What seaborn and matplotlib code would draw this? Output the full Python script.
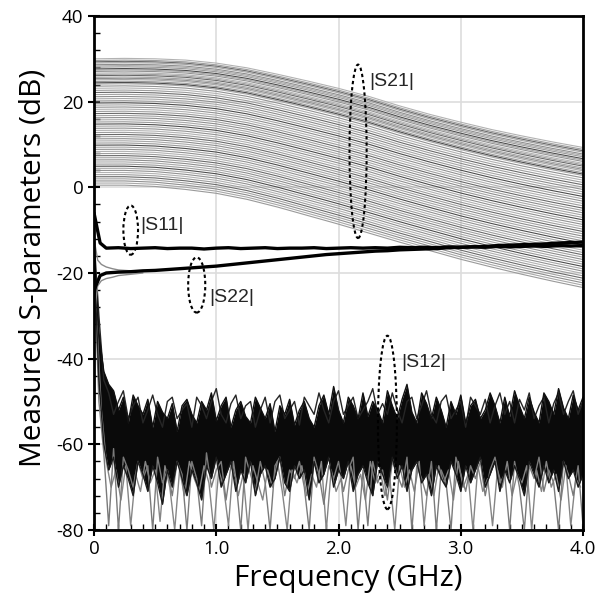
import numpy as np
import pandas as pd
import matplotlib
matplotlib.use("Agg")
import matplotlib.pyplot as plt
import seaborn as sns
from matplotlib.patches import Ellipse
from matplotlib.ticker import MultipleLocator

# ---------------- data ----------------
# |S21| family: low-frequency gain settings (dB) and the roll-off of the top / bottom curve
s21_freq = [0.0, 0.25, 0.5, 0.75, 1.0, 1.25, 1.5, 1.75, 2.0, 2.25, 2.5, 2.75, 3.0, 3.25, 3.5, 3.75, 4.0]
s21_top = [30.0, 30.1, 30.0, 29.7, 29.0, 27.9, 26.4, 24.8, 23.1, 21.2, 19.0, 17.0, 15.2, 13.5, 12.0, 10.6, 9.3]
s21_bottom = [0.5, 0.5, 0.2, -0.5, -1.4, -2.8, -4.6, -6.6, -8.6, -10.7, -12.8, -14.8, -16.8, -18.6, -20.3, -21.9, -23.4]
s21_gains = [0.0, 0.5, 1.0, 1.5, 2.0, 2.5, 3.0, 3.5, 4.0, 4.5, 5.0, 5.5, 6.0, 6.5, 7.0, 7.5,
             8.0, 8.5, 9.0, 9.5, 10.0, 10.5, 11.0, 11.5, 12.0, 12.5, 13.0, 13.5, 14.0, 14.5,
             15.0, 15.5, 16.0, 16.5, 17.0, 17.5, 18.0, 18.5, 19.0, 19.5, 20.0, 20.5, 21.0,
             21.5, 22.0, 22.5, 23.0, 23.5, 24.0, 24.3, 24.6, 25.0, 25.3, 25.6, 26.0,
             26.3, 26.6, 27.0, 27.3, 27.6, 28.0, 28.3, 28.6, 29.0, 29.3, 29.6, 30.0]
s21_grays = ["#9a9a9a", "#a8a8a8", "#8e8e8e", "#a2a2a2", "#6a6a6a", "#9e9e9e", "#b2b2b2", "#929292", "#a5a5a5", "#4c4c4c"]

# |S11| and |S22|
sxx_freq = [0.0, 0.05, 0.1, 0.2, 0.3, 0.4, 0.5, 0.6, 0.7, 0.8, 0.9, 1.0, 1.1, 1.2, 1.3, 1.4,
            1.5, 1.6, 1.7, 1.8, 1.9, 2.0, 2.1, 2.2, 2.3, 2.4, 2.5, 2.6, 2.7, 2.8, 2.9, 3.0,
            3.1, 3.2, 3.3, 3.4, 3.5, 3.6, 3.7, 3.8, 3.9, 4.0]
s11 = [-6.0, -13.0, -14.2, -14.1, -14.3, -14.2, -14.1, -14.3, -14.2, -14.2, -14.4, -14.2,
       -14.1, -14.3, -14.2, -14.1, -14.3, -14.2, -14.2, -14.1, -14.3, -14.2, -14.1, -14.2,
       -14.1, -14.2, -14.0, -14.1, -14.0, -14.1, -13.9, -14.0, -13.9, -14.0, -13.8, -13.9,
       -13.8, -13.7, -13.8, -13.6, -13.7, -13.6]
s22 = [-24.0, -20.6, -20.0, -19.8, -19.7, -19.5, -19.4, -19.2, -19.0, -18.8, -18.6, -18.4,
       -18.1, -17.8, -17.5, -17.2, -16.9, -16.6, -16.3, -16.0, -15.7, -15.5, -15.3, -15.1,
       -14.9, -14.8, -14.6, -14.5, -14.4, -14.3, -14.1, -14.0, -13.9, -13.8, -13.6, -13.5,
       -13.4, -13.3, -13.2, -13.0, -12.9, -12.8]
s22_lowf_freq = [0.0, 0.03, 0.06, 0.1, 0.15, 0.2, 0.3, 0.4]
s22_lowf_a = [-30.0, -23.0, -21.8, -21.3, -21.0, -20.6, -20.3, -20.0]
s22_lowf_b = [-12.0, -17.0, -18.0, -18.6, -19.0, -19.3, -19.5, -19.6]

# |S12| (noise floor), sampled every 0.04 GHz (second grey trace offset by 0.02 GHz)
s12_hi = [-14, -34, -43, -46, -47.5, -52, -49, -55, -48.5, -51,
          -53, -49.5, -56, -50, -52.5, -54, -50.5, -57, -51, -49.5,
          -53, -55, -50, -52, -48, -54.5, -51, -49, -56, -52,
          -50, -53.5, -55, -49, -51.5, -54, -50.5, -57, -51, -53,
          -49.5, -55.5, -52, -50, -54, -56, -51, -48.5, -53, -46.5,
          -52, -55, -49, -51, -54, -48, -53.5, -50, -52, -55,
          -47.5, -51, -54, -49.5, -46, -52.5, -55, -48, -50.5, -54,
          -49, -52, -56, -50, -53, -48.5, -55, -51, -49.5, -54,
          -52, -48, -51, -55, -49, -53.5, -47.5, -51, -54, -49,
          -52.5, -55, -48, -50, -53, -47, -51.5, -54, -48.5, -52, -49]
s12_hi2 = [-12, -30, -45, -48, -53, -50, -47.5, -54, -51, -49,
           -55, -52, -48.5, -53, -56, -50, -49, -54, -52, -50.5,
           -56, -49, -51, -54, -50, -47, -53, -55, -50.5, -48.5,
           -54, -51, -50, -56, -52, -49, -55, -50, -48.5, -54,
           -52, -50, -55.5, -49, -51, -53, -48, -52, -55, -50,
           -47.5, -53, -51, -49, -54, -52, -50, -47, -53, -50.5,
           -53, -48, -52, -55, -50, -49, -54, -51, -47.5, -53,
           -55, -50, -48.5, -54, -52, -50, -56, -49, -51, -53,
           -49.5, -55, -51, -48, -53, -50, -55, -49.5, -52, -48,
           -54, -51, -49, -55, -50.5, -48, -53, -50, -47.5, -53, -50]
s12_lo = [-16, -45, -60, -66, -63, -70, -65, -68, -72, -64,
          -67, -71, -65, -69, -74, -66, -70, -64, -68, -72,
          -66, -69, -73, -65, -68, -63, -70, -67, -64, -71,
          -66, -69, -64, -72, -67, -65, -70, -68, -63, -69,
          -71, -65, -68, -66, -73, -64, -69, -67, -63, -70,
          -66, -68, -64, -71, -67, -65, -69, -72, -64, -67,
          -70, -63, -68, -65, -71, -66, -64, -69, -67, -72,
          -65, -68, -70, -64, -67, -71, -65, -69, -66, -63,
          -70, -67, -64, -71, -66, -69, -65, -68, -72, -64,
          -67, -70, -65, -69, -66, -71, -64, -68, -66, -70, -67]
s12_dip = [-18, -50, -62, -79, -61, -80, -63, -66, -70, -64,
           -68, -65, -80, -63, -69, -66, -72, -64, -67, -80,
           -64, -68, -79, -62, -70, -66, -64, -73, -65, -68,
           -80, -63, -67, -71, -64, -69, -80, -65, -63, -72,
           -66, -68, -64, -70, -80, -63, -67, -74, -65, -68,
           -64, -71, -66, -63, -80, -66, -79, -64, -69, -66,
           -73, -64, -67, -70, -63, -80, -65, -68, -72, -64,
           -80, -66, -69, -80, -63, -67, -71, -65, -68, -64,
           -72, -66, -63, -69, -67, -80, -64, -70, -80, -65,
           -68, -63, -71, -66, -69, -80, -64, -67, -72, -65, -79]
s12_dip2 = [-30, -52, -64, -70, -66, -73, -65, -79, -67, -71,
            -64, -69, -66, -78, -65, -70, -80, -66, -72, -64,
            -68, -71, -65, -69, -80, -66, -70, -79, -64, -72,
            -67, -80, -65, -69, -73, -66, -70, -64, -71, -80,
            -66, -69, -65, -72, -67, -70, -64, -80, -66, -71,
            -68, -79, -65, -70, -67, -73, -64, -69, -66, -72,
            -68, -80, -65, -70, -66, -71, -64, -79, -67, -72,
            -65, -69, -66, -73, -64, -70, -67, -80, -65, -71,
            -68, -79, -66, -70, -64, -72, -67, -69, -65, -80,
            -66, -71, -64, -70, -67, -73, -65, -79, -68, -70]

# annotations: label, ellipse centre (GHz, dB), ellipse size, text position
notes = [("|S21|", (2.16, 8.4), (0.14, 40.5), (2.25, 24.6)),
         ("|S11|", (0.30, -10.0), (0.12, 11.5), (0.38, -8.9)),
         ("|S22|", (0.84, -22.8), (0.14, 12.9), (0.94, -25.8)),
         ("|S12|", (2.40, -54.9), (0.155, 40.5), (2.51, -41.0))]

# ---------------- figure ----------------
sns.set_theme(style="white")
plt.rcParams["font.family"] = ["Open Sans", "DejaVu Sans"]

fig = plt.figure(figsize=(6, 6.03), dpi=100)
ax = fig.add_axes([0.1567, 0.1211, 0.815, 0.8524])

# S21 family
top = np.array(s21_top)
bot = np.array(s21_bottom)
rows = []
for k, g in enumerate(s21_gains):
    vals = bot + (g / 30.0) * (top - bot)
    for f, v in zip(s21_freq, vals):
        rows.append((k, f, v))
df21 = pd.DataFrame(rows, columns=["curve", "f", "dB"])
pal21 = [s21_grays[k % len(s21_grays)] for k in range(len(s21_gains))]
sns.lineplot(data=df21, x="f", y="dB", hue="curve", palette=pal21, legend=False,
             estimator=None, sort=False, lw=0.8, ax=ax, zorder=2)

# S12 noise floor
def freq_for(vals, start=0.0):
    return np.round(start + 0.04 * np.arange(len(vals)), 3)

n = min(len(s12_hi), len(s12_lo))
ax.fill_between(freq_for(s12_hi)[:n], s12_hi[:n], s12_lo[:n], color="#0a0a0a", lw=0, zorder=3)
parts = [("dip2", s12_dip2, 0.02), ("dip", s12_dip, 0.0), ("lo", s12_lo, 0.0),
         ("hi2", s12_hi2, 0.0), ("hi", s12_hi, 0.0)]
df12 = pd.concat([pd.DataFrame({"f": freq_for(v, st), "dB": v, "trace": name})
                  for name, v, st in parts], ignore_index=True)
sns.lineplot(data=df12, x="f", y="dB", hue="trace",
             palette={"dip2": "#858585", "dip": "#7a7a7a", "lo": "#1a1a1a",
                      "hi2": "#262626", "hi": "#111111"},
             legend=False, estimator=None, sort=False, lw=1.0, ax=ax, zorder=3)

# S11 / S22
sns.lineplot(x=s22_lowf_freq, y=s22_lowf_a, color="#8a8a8a", lw=1.0, ax=ax, zorder=4)
sns.lineplot(x=s22_lowf_freq, y=s22_lowf_b, color="#8a8a8a", lw=1.0, ax=ax, zorder=4)
sns.lineplot(x=sxx_freq, y=s11, color="black", lw=2.4, ax=ax, zorder=5)
sns.lineplot(x=sxx_freq, y=s22, color="black", lw=2.4, ax=ax, zorder=5)

# annotations
for label, c, size, tpos in notes:
    ax.add_patch(Ellipse(c, size[0], size[1], fill=False, ec="black", lw=1.5,
                         ls=(0, (1.6, 1.4)), zorder=6))
    ax.text(tpos[0], tpos[1], label, fontsize=14, family=["Liberation Sans"],
            ha="left", va="center", zorder=7)

# axes styling
ax.set_xlim(0, 4.0)
ax.set_ylim(-80, 40)
ax.set_xticks([0, 1, 2, 3, 4])
ax.set_xticklabels(["0", "1.0", "2.0", "3.0", "4.0"])
yt = [-80, -60, -40, -20, 0, 20, 40]
ax.set_yticks(yt)
ax.set_yticklabels([str(v) for v in yt])
ax.xaxis.set_minor_locator(MultipleLocator(0.1))
ax.yaxis.set_minor_locator(MultipleLocator(4))
ax.tick_params(axis="both", which="major", direction="inout", length=9, width=1.5,
               colors="black", labelsize=13.5, bottom=True, left=True, pad=3)
ax.tick_params(axis="both", which="minor", direction="in", length=4, width=1.0,
               colors="black", bottom=True, left=True)
ax.grid(True, which="major", color="#dddddd", lw=1.2)
ax.set_axisbelow(True)
for s in ax.spines.values():
    s.set_color("black")
    s.set_linewidth(2.0)
    s.set_zorder(8)

ax.set_xlabel("Frequency (GHz)", fontsize=21.5, color="black")
ax.set_ylabel("Measured S-parameters (dB)", fontsize=21.5, color="black")
ax.xaxis.set_label_coords(0.52, -0.066)
ax.yaxis.set_label_coords(-0.094, 0.51)

fig.savefig("out.png", dpi=100)
